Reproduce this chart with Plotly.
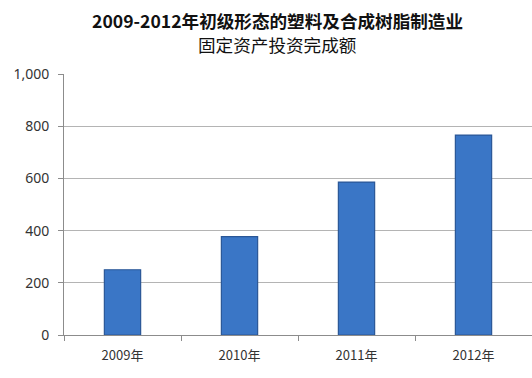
import plotly.graph_objects as go

categories = ["2009年", "2010年", "2011年", "2012年"]
values = [250, 377, 586, 766]
y_ticks = [0, 200, 400, 600, 800, 1000]
y_tick_labels = ["0", "200", "400", "600", "800", "1,000"]
title_line1 = "2009-2012年初级形态的塑料及合成树脂制造业"
title_line2 = "固定资产投资完成额"

W, H = 532, 378
ML, MR, MT, MB = 64, 0, 74, 43
plot_w = W - ML - MR
plot_h = H - MT - MB


def px_to_paper(px, py):
    return (px - ML) / plot_w, (H - MB - py) / plot_h


fig = go.Figure()
fig.add_trace(go.Bar(
    x=categories, y=values, width=0.31,
    marker=dict(color="#3A76C6", line=dict(color="#2A5797", width=1.2)),
))

t1x, t1y = px_to_paper(277, 20)
t2x, t2y = px_to_paper(277, 45)

fig.update_layout(
    width=W, height=H,
    margin=dict(l=ML, r=MR, t=MT, b=MB),
    paper_bgcolor="white", plot_bgcolor="white",
    showlegend=False,
    font=dict(family="Noto Sans CJK SC", size=13, color="#404040"),
    annotations=[
        dict(text="<b>" + title_line1 + "</b>", xref="paper", yref="paper",
             x=t1x, y=t1y, xanchor="center", yanchor="middle",
             showarrow=False,
             font=dict(family="Noto Sans CJK SC", size=17.6, color="#111111")),
        dict(text=title_line2, xref="paper", yref="paper",
             x=t2x, y=t2y, xanchor="center", yanchor="middle",
             showarrow=False,
             font=dict(family="Noto Sans CJK SC", size=17.6, color="#111111")),
    ],
    bargap=0.69,
)
fig.update_xaxes(
    showline=True, linecolor="#8c8c8c", linewidth=1,
    ticks="outside", tickson="boundaries", ticklen=5, tickcolor="#8c8c8c",
    showgrid=False,
    tickfont=dict(family="Noto Sans CJK SC", size=13, color="#333333"),
    ticklabelstandoff=8,
)
fig.update_yaxes(
    range=[0, 1000], tickvals=y_ticks, ticktext=y_tick_labels,
    showline=True, linecolor="#8c8c8c", linewidth=1,
    ticks="outside", ticklen=5, tickcolor="#8c8c8c",
    showgrid=True, gridcolor="#b4b4b4", gridwidth=1,
    zeroline=False,
    tickfont=dict(family="Noto Sans", size=14, color="#333333"),
    ticklabelstandoff=6,
)

fig.write_html("out.html", config={"displayModeBar": False},
               post_script="document.body.style.margin='0';")
